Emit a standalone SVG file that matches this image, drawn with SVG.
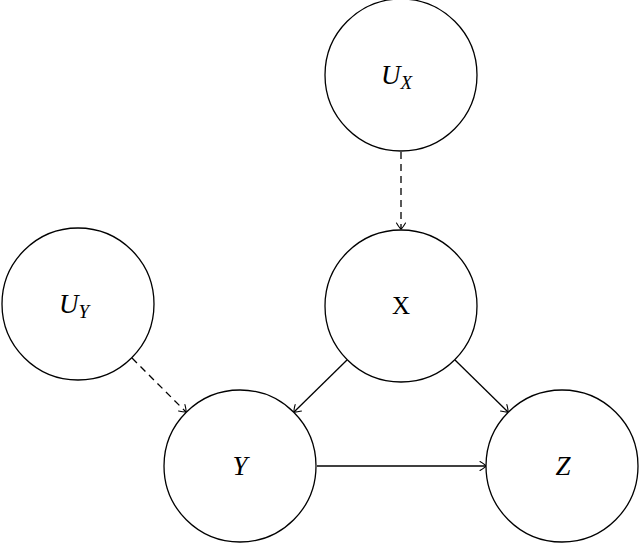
<svg xmlns="http://www.w3.org/2000/svg" width="640" height="543" viewBox="0 0 640 543">
<defs>
<marker id="to" viewBox="-8 -6 10 12" markerWidth="10" markerHeight="12" refX="0" refY="0" orient="auto" markerUnits="userSpaceOnUse">
<path d="M-6,-4.5 Q-1,-1.5 0,0 Q-1,1.5 -6,4.5" fill="none" stroke="#000" stroke-width="1.1" stroke-linecap="round"/>
</marker>
</defs>
<style>
circle{fill:#fff;stroke:#000;stroke-width:1.3}
.lbl{font-family:"Liberation Serif",serif;font-size:27px;font-style:italic;fill:#000}
.sub{font-size:19px}
.e{stroke:#000;stroke-width:1.3;fill:none;marker-end:url(#to)}
.d{stroke-dasharray:7,5}
</style>
<rect width="640" height="543" fill="#fff"/>
<g id="connectors">
<line class="e d" x1="401" y1="152" x2="401" y2="229"/>
<line class="e d" x1="132" y1="358" x2="186" y2="412"/>
<line class="e" x1="347" y1="360" x2="294" y2="412"/>
<line class="e" x1="455" y1="360" x2="508" y2="412"/>
<line class="e" x1="317" y1="466" x2="486" y2="466"/>
</g>
<g id="UX"><circle cx="401" cy="75" r="76"/><text class="lbl" x="381" y="84">U<tspan class="sub" dy="5">X</tspan></text></g>
<g id="X"><circle cx="401" cy="306" r="76"/><text x="401" y="314" text-anchor="middle" font-family="Liberation Serif,serif" font-size="25">X</text></g>
<g id="UY"><circle cx="78" cy="304" r="76"/><text class="lbl" x="59" y="313">U<tspan class="sub" dy="5">Y</tspan></text></g>
<g id="Y"><circle cx="240" cy="466" r="76"/><text class="lbl" x="240" y="475" text-anchor="middle">Y</text></g>
<g id="Z"><circle cx="562" cy="466" r="76"/><text class="lbl" x="563" y="475" text-anchor="middle">Z</text></g>
</svg>
